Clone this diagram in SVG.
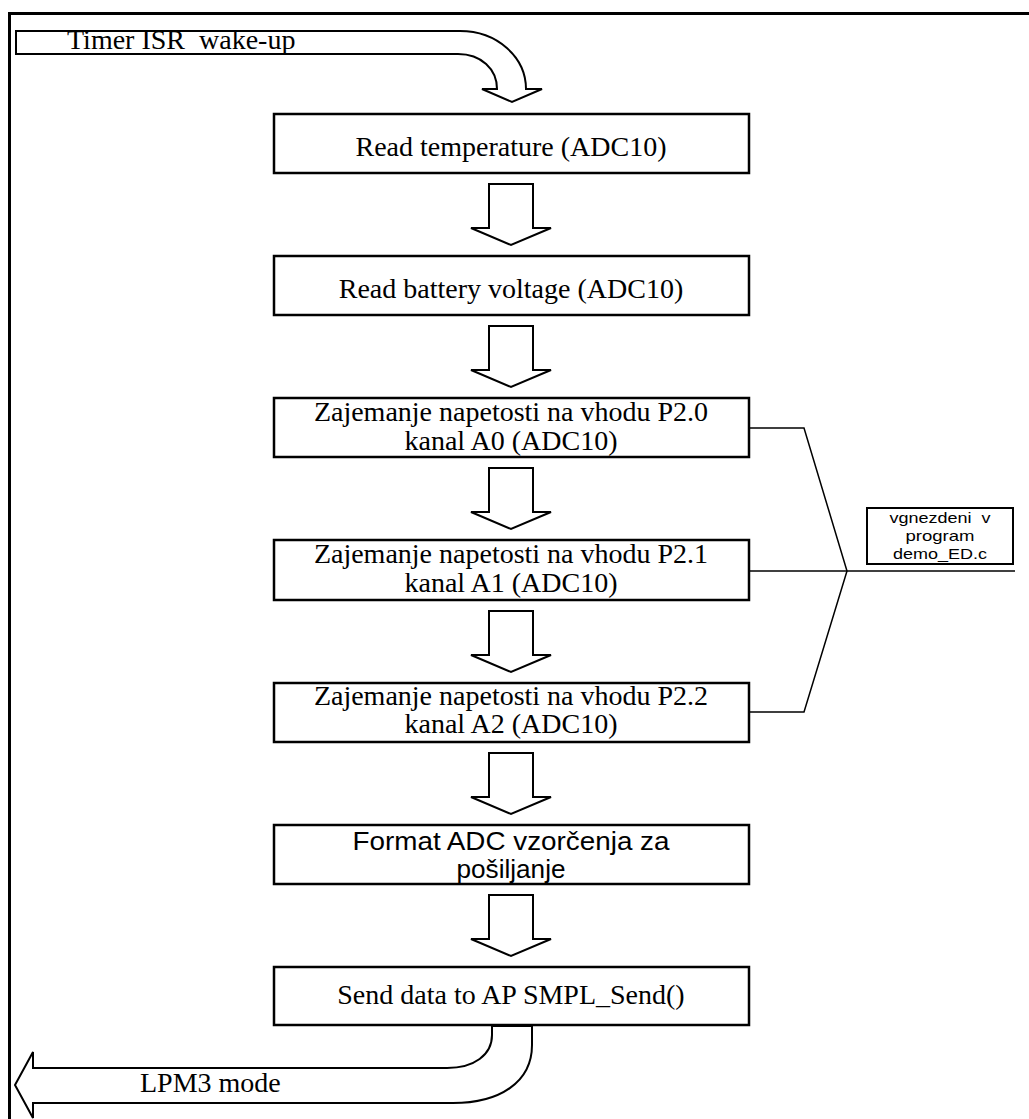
<svg xmlns="http://www.w3.org/2000/svg" width="1029" height="1119" viewBox="0 0 1029 1119">
<style>
.box{fill:#fff;stroke:#000;stroke-width:2.5}
.blk{fill:#fff;stroke:#000;stroke-width:2;stroke-linejoin:miter}
.ln{fill:none;stroke:#000;stroke-width:1.5}
.serif{font-family:"Liberation Serif","Times New Roman",serif;font-size:28px;fill:#000;text-anchor:middle}
.sans{font-family:"Liberation Sans",Arial,sans-serif;fill:#000;text-anchor:middle}
</style>
<defs>
<path id="down" d="M-22,0 H22 V44 H40 L0,61 L-40,44 H-22 Z"/>
</defs>
<rect width="1029" height="1119" fill="#fff"/>
<path d="M9.5,1119 V13.5 H1029" fill="none" stroke="#000" stroke-width="3"/>

<g id="connectors">
<path class="blk" d="M16,31 H460 C497,31 526,57 526,89 H542 L512,102 L482,89 H497 C497,69 481,54 458,54 H16 Z"/>
<text x="67" y="49" class="serif" style="text-anchor:start" xml:space="preserve">Timer ISR  wake-up</text>
<use href="#down" class="blk" x="511" y="184"/>
<use href="#down" class="blk" x="511" y="326"/>
<use href="#down" class="blk" x="511" y="468"/>
<use href="#down" class="blk" x="511" y="611"/>
<use href="#down" class="blk" x="511" y="753"/>
<use href="#down" class="blk" x="511" y="895"/>
<path class="blk" d="M492,1026 V1035 C492,1055 474,1068 447,1068 H33 V1052 L15,1085 L33,1118 V1103 H453 C500,1103 532,1082 532,1045 V1026 Z"/>
<text x="140" y="1092" class="serif" style="text-anchor:start">LPM3 mode</text>
<path class="ln" d="M749,428 H804 L847,571 L804,712 H749"/>
<path class="ln" d="M749,571 H1015"/>
</g>

<g id="n1">
<rect class="box" x="274" y="114" width="475" height="59"/>
<text class="serif" x="511" y="156">Read temperature (ADC10)</text>
</g>
<g id="n2">
<rect class="box" x="274" y="256" width="475" height="59"/>
<text class="serif" x="511" y="298">Read battery voltage (ADC10)</text>
</g>
<g id="n3">
<rect class="box" x="274" y="398" width="475" height="59"/>
<text class="serif" x="511" y="421">Zajemanje napetosti na vhodu P2.0</text>
<text class="serif" x="511" y="450">kanal A0 (ADC10)</text>
</g>
<g id="n4">
<rect class="box" x="274" y="540" width="475" height="60"/>
<text class="serif" x="511" y="563">Zajemanje napetosti na vhodu P2.1</text>
<text class="serif" x="511" y="592">kanal A1 (ADC10)</text>
</g>
<g id="n5">
<rect class="box" x="274" y="683" width="475" height="59"/>
<text class="serif" x="511" y="705">Zajemanje napetosti na vhodu P2.2</text>
<text class="serif" x="511" y="733">kanal A2 (ADC10)</text>
</g>
<g id="n6">
<rect class="box" x="274" y="825" width="475" height="59"/>
<text class="sans" x="511" y="850" font-size="26" textLength="317" lengthAdjust="spacingAndGlyphs">Format ADC vzorčenja za</text>
<text class="sans" x="511" y="878" font-size="26" textLength="109" lengthAdjust="spacingAndGlyphs">pošiljanje</text>
</g>
<g id="n7">
<rect class="box" x="274" y="967" width="475" height="58"/>
<text class="serif" x="511" y="1004">Send data to AP SMPL_Send()</text>
</g>
<g id="note">
<rect x="867" y="508" width="146" height="56" fill="#fff" stroke="#000" stroke-width="2"/>
<text class="sans" x="940" y="523" font-size="15" textLength="101" lengthAdjust="spacingAndGlyphs" xml:space="preserve">vgnezdeni  v</text>
<text class="sans" x="940" y="541" font-size="15" textLength="69" lengthAdjust="spacingAndGlyphs">program</text>
<text class="sans" x="940" y="559" font-size="15" textLength="94" lengthAdjust="spacingAndGlyphs">demo_ED.c</text>
</g>
</svg>
